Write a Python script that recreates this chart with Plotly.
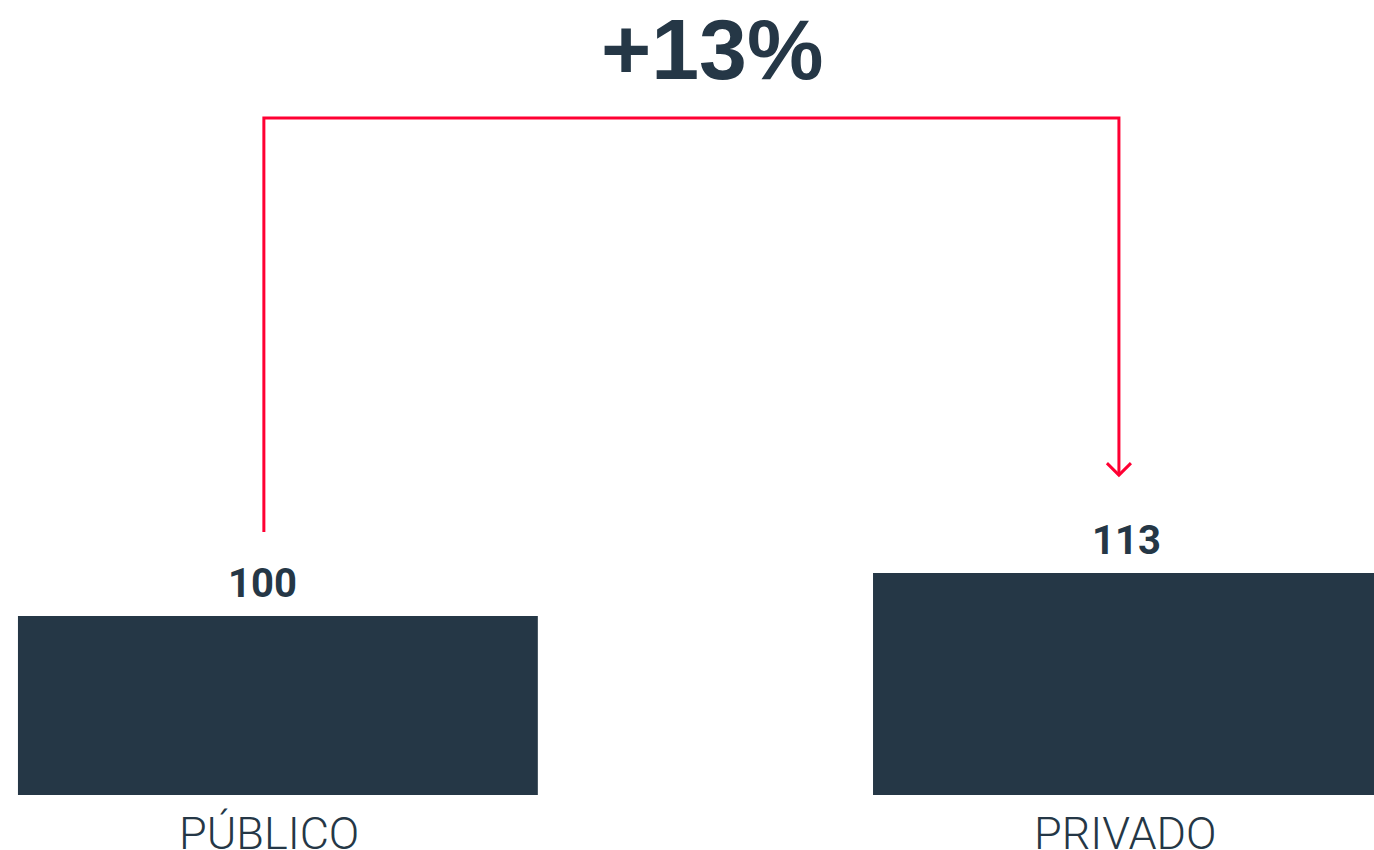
import plotly.graph_objects as go

categories = ["PÚBLICO", "PRIVADO"]
values = [100, 113]

DARK = "#253746"
RED = "#FF0033"

pct = round((values[1] / values[0] - 1) * 100)
change_label = f"+{pct}%"

x_pos = list(range(len(categories)))
value_xshift = [-15, -6]
label_xshift = [-9, -7]

fig = go.Figure()
fig.add_trace(go.Bar(
    x=x_pos, y=values, width=0.608,
    marker=dict(color=DARK, line=dict(width=0)),
    hoverinfo="skip", cliponaxis=True,
))

# value labels
for i, v in zip(x_pos, values):
    fig.add_annotation(x=i, y=v, text=f"<b>{v}</b>", showarrow=False,
                       xshift=value_xshift[i], yshift=33, yanchor="middle",
                       font=dict(family="Roboto", size=40, color=DARK))
    fig.add_annotation(x=i, y=0, yref="paper", text=categories[i], showarrow=False,
                       xshift=label_xshift[i], yshift=-38, yanchor="middle",
                       font=dict(family="Roboto", size=45, color=DARK, weight=300))

# bracket arrow
off = -0.0164
x0 = x_pos[0] + off
x1 = x_pos[1] + off
y_start = values[0] + 25.4
y_top = values[1] + 137.6
y_end = values[1] + 29.6
fig.add_shape(type="path",
              path=f"M {x0},{y_start} L {x0},{y_top} L {x1},{y_top} L {x1},{y_end}",
              line=dict(color=RED, width=3), layer="above")
dx = 12 / 855
dy = 12 / 3.3077
fig.add_shape(type="path",
              path=f"M {x1-dx},{y_end+dy} L {x1},{y_end} L {x1+dx},{y_end+dy}",
              line=dict(color=RED, width=3), layer="above")

fig.add_annotation(x=(x0 + x1) / 2, y=y_top, text=f"<b>{change_label}</b>", showarrow=False,
                   xshift=21, yshift=69, yanchor="middle",
                   font=dict(family="Liberation Sans", size=86, color=DARK))

fig.update_layout(
    width=1374, height=850,
    margin=dict(l=0, r=0, t=0, b=55),
    paper_bgcolor="white", plot_bgcolor="white",
    showlegend=False,
    xaxis=dict(range=[-0.325, 1.2819], visible=False, fixedrange=True),
    yaxis=dict(range=[45.9, 286.25], visible=False, fixedrange=True),
)

fig.write_html("out.html")
